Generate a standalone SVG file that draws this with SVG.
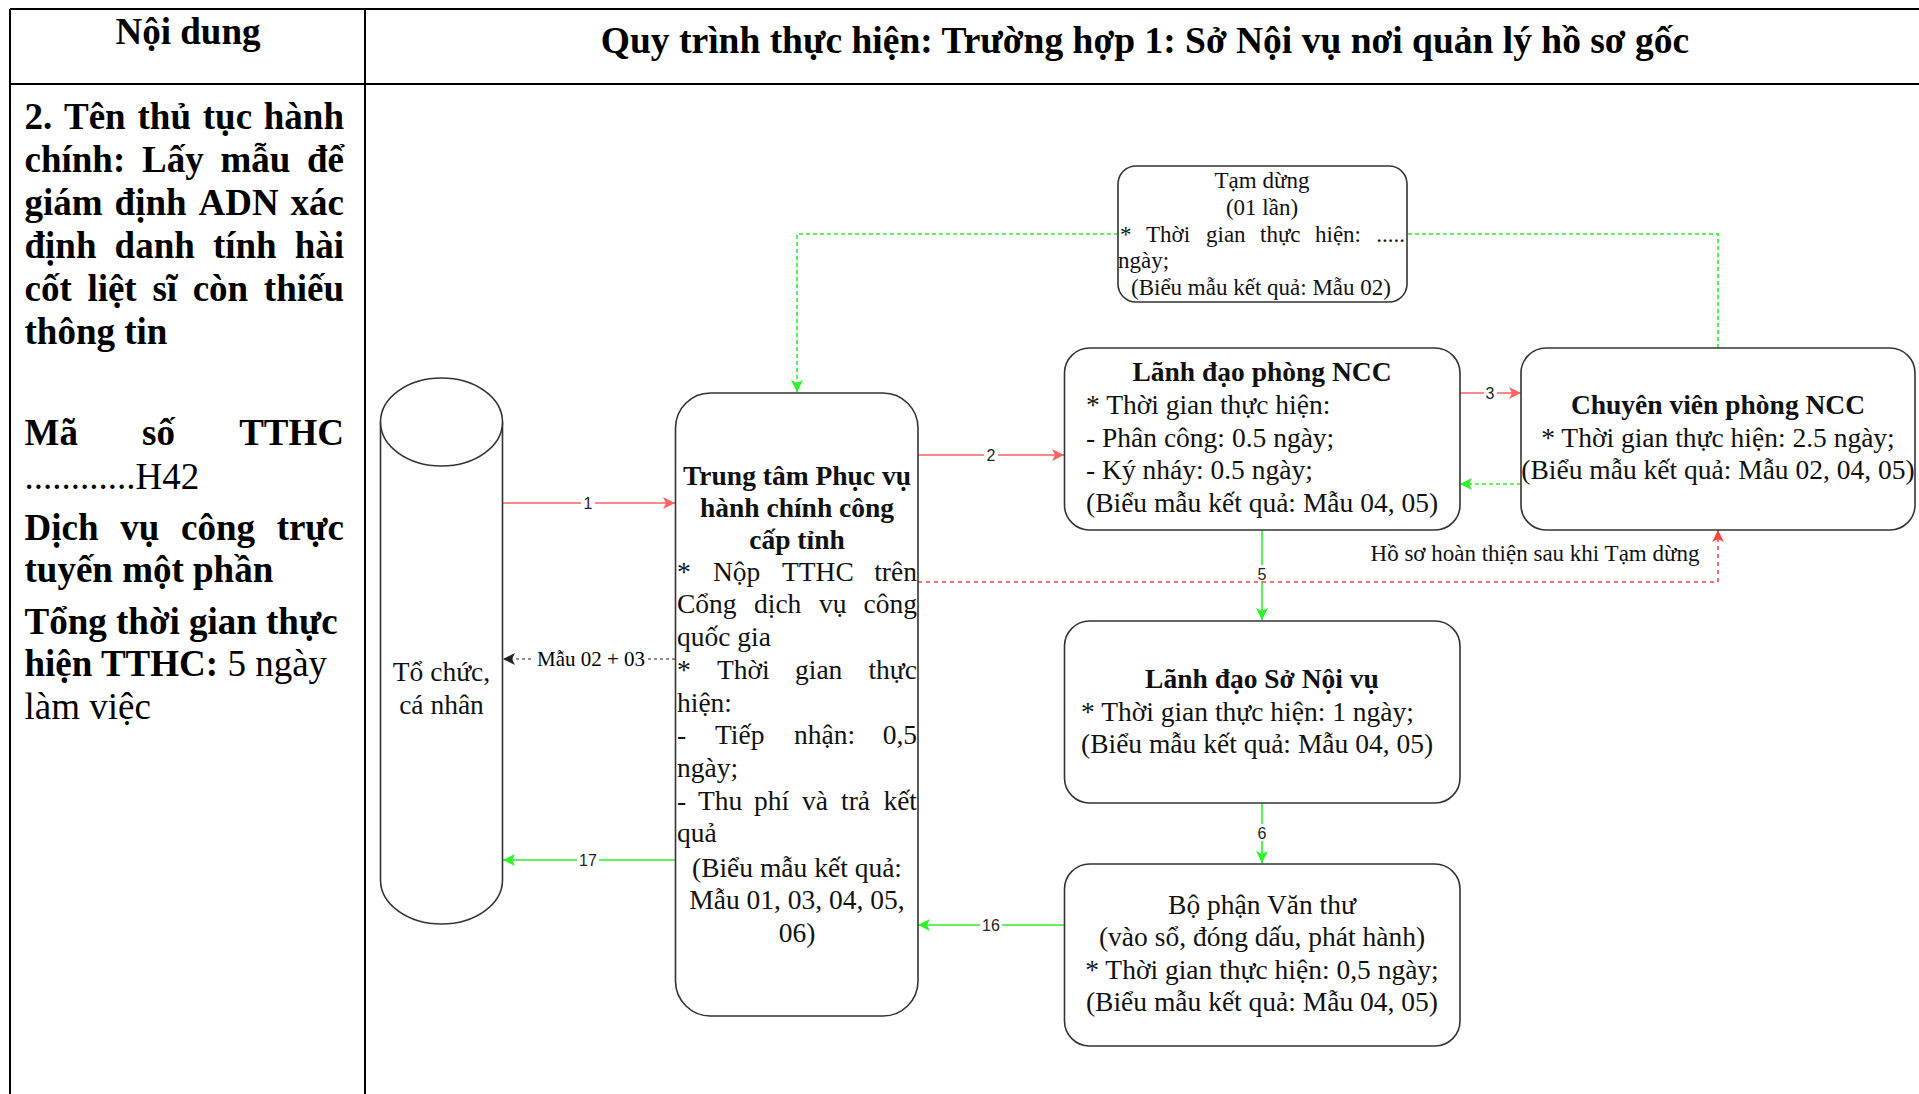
<svg xmlns="http://www.w3.org/2000/svg" width="1919" height="1094" viewBox="0 0 1919 1094">
  <style>
    .serif { font-family: "Liberation Serif", "Times New Roman", serif; fill: #000; }
    .b { font-weight: bold; }
    .hdr { font-size: 37px; font-weight: bold; text-anchor: middle; }
    .hdr-wide { font-size: 37.5px; }
    .col { font-size: 37px; }
    .nd { font-size: 27.5px; fill: #111; }
    .sm { font-size: 23px; fill: #111; }
    .mid { text-anchor: middle; }
    .end { text-anchor: end; }
    .grid { stroke: #000; stroke-width: 2; fill: none; }
    .box { fill: #fff; stroke: #333; stroke-width: 1.6; }
    .edge { fill: none; stroke-width: 1.6; }
    .red { stroke: #ff6262; }
    .redd { stroke: #ff4444; stroke-dasharray: 4 4; }
    .grn { stroke: #2bf22b; }
    .grnd { stroke: #2bf22b; stroke-dasharray: 4 3; }
    .blkd { stroke: #222; stroke-width: 1.1; stroke-dasharray: 3 3; }
    .num { font-family: "Liberation Sans", Arial, sans-serif; font-size: 16px; fill: #222; text-anchor: middle; }
    .lblbg { fill: #fff; }
  </style>
  <defs>
    <marker id="arrRed" markerUnits="userSpaceOnUse" markerWidth="13" markerHeight="12" refX="12" refY="6" orient="auto">
      <path d="M0,0 L12,6 L0,12 L3,6 Z" fill="#ff6262"/>
    </marker>
    <marker id="arrRedD" markerUnits="userSpaceOnUse" markerWidth="13" markerHeight="12" refX="12" refY="6" orient="auto">
      <path d="M0,0 L12,6 L0,12 L3,6 Z" fill="#ff4444"/>
    </marker>
    <marker id="arrGrn" markerUnits="userSpaceOnUse" markerWidth="13" markerHeight="12" refX="12" refY="6" orient="auto">
      <path d="M0,0 L12,6 L0,12 L3,6 Z" fill="#2bf22b"/>
    </marker>
    <marker id="arrBlk" markerUnits="userSpaceOnUse" markerWidth="13" markerHeight="12" refX="12" refY="6" orient="auto">
      <path d="M0,0 L12,6 L0,12 L3,6 Z" fill="#222"/>
    </marker>
  </defs>

  <rect width="1919" height="1094" fill="#fff"/>

  <!-- table frame -->
  <g id="table">
    <line class="grid" x1="10" y1="9" x2="1919" y2="9"/>
    <line class="grid" x1="10" y1="84" x2="1919" y2="84"/>
    <line class="grid" x1="10" y1="9" x2="10" y2="1094"/>
    <line class="grid" x1="365" y1="9" x2="365" y2="1094"/>
    <text class="serif hdr" x="188" y="44">Nội dung</text>
    <text class="serif hdr hdr-wide" x="1145" y="52.5">Quy trình thực hiện: Trường hợp 1: Sở Nội vụ nơi quản lý hồ sơ gốc</text>
  </g>

  <!-- left column: procedure info (justified lines) -->
  <g id="info" class="serif col">
    <text class="b" y="129"><tspan x="24.5">2.</tspan><tspan x="64">Tên</tspan><tspan x="137.5">thủ</tspan><tspan x="202.8">tục</tspan></text>
    <text class="b end" x="344" y="129">hành</text>
    <text class="b" y="172"><tspan x="24.5">chính:</tspan><tspan x="142">Lấy</tspan><tspan x="220.4">mẫu</tspan></text>
    <text class="b end" x="344" y="172">để</text>
    <text class="b" y="215"><tspan x="24.5">giám</tspan><tspan x="114.6">định</tspan><tspan x="198.5">ADN</tspan></text>
    <text class="b end" x="344" y="215">xác</text>
    <text class="b" y="258"><tspan x="24.5">định</tspan><tspan x="114.6">danh</tspan><tspan x="212.9">tính</tspan></text>
    <text class="b end" x="344" y="258">hài</text>
    <text class="b" y="301"><tspan x="24.5">cốt</tspan><tspan x="87.4">liệt</tspan><tspan x="152.4">sĩ</tspan><tspan x="192.7">còn</tspan></text>
    <text class="b end" x="344" y="301">thiếu</text>
    <text class="b" x="24.5" y="344">thông tin</text>
    <text class="b" y="445"><tspan x="24.5">Mã</tspan><tspan x="142.1">số</tspan></text>
    <text class="b end" x="344" y="445">TTHC</text>
    <text x="24.5" y="489">............H42</text>
    <text class="b" y="540"><tspan x="24.5">Dịch</tspan><tspan x="120.2">vụ</tspan><tspan x="181">công</tspan></text>
    <text class="b end" x="344" y="540">trực</text>
    <text class="b" x="24.5" y="582">tuyến một phần</text>
    <text class="b" x="24.5" y="634">Tổng thời gian thực</text>
    <text x="24.5" y="676"><tspan class="b">hiện TTHC:</tspan> 5 ngày</text>
    <text x="24.5" y="719">làm việc</text>
  </g>

  <!-- connectors -->
  <g id="connectors">
    <path class="edge red" d="M497,503 L675,503" marker-end="url(#arrRed)"/>
    <path class="edge red" d="M918,455 L1064,455" marker-end="url(#arrRed)"/>
    <path class="edge red" d="M1460,393 L1521,393" marker-end="url(#arrRed)"/>
    <path class="edge blkd" d="M675,659 L503,659" marker-end="url(#arrBlk)"/>
    <path class="edge grn" d="M675,860 L503,860" marker-end="url(#arrGrn)"/>
    <path class="edge grn" d="M1064,925 L918,925" marker-end="url(#arrGrn)"/>
    <path class="edge grn" d="M1262,530 L1262,620" marker-end="url(#arrGrn)"/>
    <path class="edge grn" d="M1262,803 L1262,863" marker-end="url(#arrGrn)"/>
    <path class="edge grnd" d="M1521,484 L1460,484" marker-end="url(#arrGrn)"/>
    <path class="edge grnd" d="M1718,348 L1718,234 L797,234 L797,392" marker-end="url(#arrGrn)"/>
    <path class="edge redd" d="M918,582 L1718,582 L1718,530" marker-end="url(#arrRedD)"/>

    <!-- edge labels -->
    <rect class="lblbg" x="581" y="494" width="14" height="17"/>
    <text class="num" x="588" y="509">1</text>
    <rect class="lblbg" x="984" y="446" width="14" height="17"/>
    <text class="num" x="991" y="461">2</text>
    <rect class="lblbg" x="1484" y="384" width="13" height="17"/>
    <text class="num" x="1490" y="399">3</text>
    <rect class="lblbg" x="1255" y="565" width="14" height="16"/>
    <text class="num" x="1262" y="580">5</text>
    <rect class="lblbg" x="1255" y="824" width="14" height="17"/>
    <text class="num" x="1262" y="839">6</text>
    <rect class="lblbg" x="577" y="851" width="22" height="17"/>
    <text class="num" x="588" y="866">17</text>
    <rect class="lblbg" x="980" y="916" width="22" height="17"/>
    <text class="num" x="991" y="931">16</text>
    <rect class="lblbg" x="534" y="647" width="114" height="23"/>
    <text class="serif mid" x="591" y="666" font-size="21" fill="#111">Mẫu 02 + 03</text>
    <text class="serif sm mid" x="1535" y="561">Hồ sơ hoàn thiện sau khi Tạm dừng</text>
  </g>

  <!-- Tổ chức, cá nhân -->
  <g id="applicant">
    <path class="box" d="M380.5,422 A61,44 0 0 1 502.5,422 L502.5,880 A61,44 0 0 1 380.5,880 Z"/>
    <path class="box" fill="none" d="M380.5,422 A61,44 0 0 0 502.5,422"/>
    <text class="serif nd mid" x="441.5" y="681">Tổ chức,</text>
    <text class="serif nd mid" x="441.5" y="714">cá nhân</text>
  </g>

  <!-- Trung tâm Phục vụ hành chính công cấp tỉnh -->
  <g id="service-center" class="serif nd">
    <rect class="box" x="675.5" y="393" width="242.5" height="623" rx="35"/>
    <text class="b mid" x="797" y="485">Trung tâm Phục vụ</text>
    <text class="b mid" x="797" y="517">hành chính công</text>
    <text class="b mid" x="797" y="549">cấp tỉnh</text>
    <text y="581"><tspan x="677">*</tspan><tspan x="713">Nộp</tspan><tspan x="782">TTHC</tspan></text>
    <text class="end" x="917" y="581">trên</text>
    <text y="613"><tspan x="677">Cổng</tspan><tspan x="754">dịch</tspan><tspan x="819">vụ</tspan></text>
    <text class="end" x="917" y="613">công</text>
    <text x="677" y="646">quốc gia</text>
    <text y="679"><tspan x="677">*</tspan><tspan x="717">Thời</tspan><tspan x="795">gian</tspan></text>
    <text class="end" x="917" y="679">thực</text>
    <text x="677" y="712">hiện:</text>
    <text y="744"><tspan x="677">-</tspan><tspan x="715">Tiếp</tspan><tspan x="794">nhận:</tspan></text>
    <text class="end" x="917" y="744">0,5</text>
    <text x="677" y="777">ngày;</text>
    <text y="810"><tspan x="677">-</tspan><tspan x="698">Thu</tspan><tspan x="754">phí</tspan><tspan x="802">và</tspan><tspan x="841">trả</tspan></text>
    <text class="end" x="917" y="810">kết</text>
    <text x="677" y="842">quả</text>
    <text class="mid" x="797" y="877">(Biểu mẫu kết quả:</text>
    <text class="mid" x="797" y="909">Mẫu 01, 03, 04, 05,</text>
    <text class="mid" x="797" y="942">06)</text>
  </g>

  <!-- Tạm dừng -->
  <g id="pause" class="serif sm">
    <rect class="box" x="1118" y="166" width="289" height="136" rx="18"/>
    <text class="mid" x="1262" y="188">Tạm dừng</text>
    <text class="mid" x="1262" y="215">(01 lần)</text>
    <text y="242"><tspan x="1120">*</tspan><tspan x="1146">Thời</tspan><tspan x="1206">gian</tspan><tspan x="1260">thực</tspan><tspan x="1315">hiện:</tspan></text>
    <text class="end" x="1405" y="242">.....</text>
    <text x="1118" y="268">ngày;</text>
    <text class="mid" x="1261" y="295">(Biểu mẫu kết quả: Mẫu 02)</text>
  </g>

  <!-- Lãnh đạo phòng NCC -->
  <g id="ncc-head" class="serif nd">
    <rect class="box" x="1064.5" y="348" width="395.5" height="182" rx="25"/>
    <text class="b mid" x="1262" y="381">Lãnh đạo phòng NCC</text>
    <text x="1086" y="414">* Thời gian thực hiện:</text>
    <text x="1086" y="447">- Phân công: 0.5 ngày;</text>
    <text x="1086" y="479">- Ký nháy: 0.5 ngày;</text>
    <text x="1086" y="512">(Biểu mẫu kết quả: Mẫu 04, 05)</text>
  </g>

  <!-- Chuyên viên phòng NCC -->
  <g id="ncc-staff" class="serif nd">
    <rect class="box" x="1521" y="348" width="394" height="182" rx="25"/>
    <text class="b mid" x="1718" y="414">Chuyên viên phòng NCC</text>
    <text class="mid" x="1718" y="447">* Thời gian thực hiện: 2.5 ngày;</text>
    <text class="mid" x="1718" y="479">(Biểu mẫu kết quả: Mẫu 02, 04, 05)</text>
  </g>

  <!-- Lãnh đạo Sở Nội vụ -->
  <g id="dept-head" class="serif nd">
    <rect class="box" x="1064.5" y="621" width="395.5" height="182" rx="25"/>
    <text class="b mid" x="1262" y="688">Lãnh đạo Sở Nội vụ</text>
    <text x="1081" y="721">* Thời gian thực hiện: 1 ngày;</text>
    <text x="1081" y="753">(Biểu mẫu kết quả: Mẫu 04, 05)</text>
  </g>

  <!-- Bộ phận Văn thư -->
  <g id="clerical" class="serif nd">
    <rect class="box" x="1064.5" y="864" width="395.5" height="182" rx="25"/>
    <text class="mid" x="1262" y="914">Bộ phận Văn thư</text>
    <text class="mid" x="1262" y="946">(vào sổ, đóng dấu, phát hành)</text>
    <text class="mid" x="1262" y="979">* Thời gian thực hiện: 0,5 ngày;</text>
    <text class="mid" x="1262" y="1011">(Biểu mẫu kết quả: Mẫu 04, 05)</text>
  </g>
</svg>
